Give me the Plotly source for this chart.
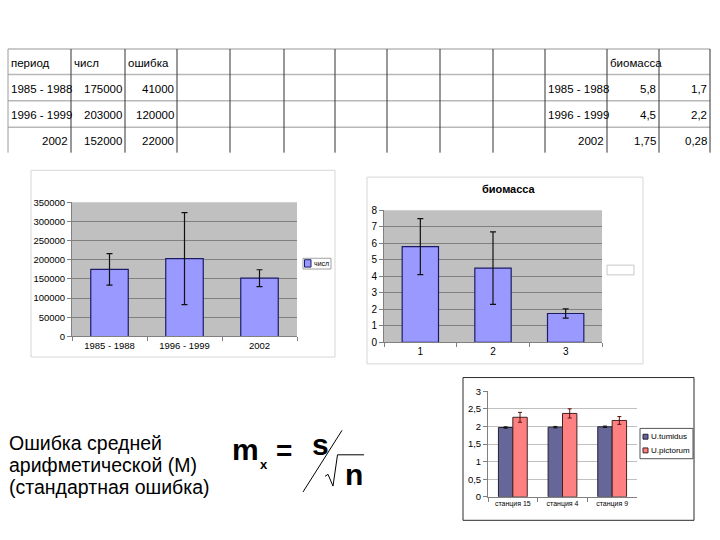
import plotly.graph_objects as go

# ---------------- data ----------------
table_header_left = ["период", "числ", "ошибка"]
periods = ["1985 - 1988", "1996 - 1999", "2002"]
chisl = [175000, 203000, 152000]
chisl_err = [41000, 120000, 22000]

biomass_header = "биомасса"
biomass = [5.8, 4.5, 1.75]
biomass_err = [1.7, 2.2, 0.28]
biomass_cats = ["1", "2", "3"]

stations = ["станция 15", "станция 4", "станция 9"]
tumidus = [1.97, 1.98, 1.99]
tumidus_err = [0.02, 0.02, 0.02]
pictorum = [2.26, 2.37, 2.17]
pictorum_err = [0.14, 0.13, 0.11]
series3_names = ["U.tumidus", "U.pictorum"]

y1_ticks = [0, 50000, 100000, 150000, 200000, 250000, 300000, 350000]
y2_ticks = [0, 1, 2, 3, 4, 5, 6, 7, 8]
y3_ticks = [0, 0.5, 1, 1.5, 2, 2.5, 3]

text_lines = ["Ошибка средней", "арифметической (М)", "(стандартная ошибка)"]

# ---------------- helpers ----------------
W, H = 720, 540
def X(x):
    return x / W
def Y(y):
    return 1 - y / H

FONT = "Liberation Sans, Arial, sans-serif"
TFONT = "Liberation Sans, Arial, sans-serif"
TSIZE = 11.5

fig = go.Figure()

# chart 1
fig.add_trace(go.Bar(
    x=periods, y=chisl, width=0.5, name="числ",
    marker=dict(color="#9999ff", line=dict(color="#1c1c66", width=1.2)),
    error_y=dict(type="data", array=chisl_err, color="#111111", thickness=1.2, width=3),
    xaxis="x", yaxis="y", showlegend=False))
# chart 2
fig.add_trace(go.Bar(
    x=biomass_cats, y=biomass, width=0.5, name="биомасса",
    marker=dict(color="#9999ff", line=dict(color="#1c1c66", width=1.2)),
    error_y=dict(type="data", array=biomass_err, color="#111111", thickness=1.2, width=3),
    xaxis="x2", yaxis="y2", showlegend=False))
# chart 3
fig.add_trace(go.Bar(
    x=stations, y=tumidus, width=0.29, offset=-0.29, name=series3_names[0],
    marker=dict(color="#666699", line=dict(color="#222233", width=1)),
    error_y=dict(type="data", array=tumidus_err, color="#111111", thickness=1, width=2),
    xaxis="x3", yaxis="y3", showlegend=False))
fig.add_trace(go.Bar(
    x=stations, y=pictorum, width=0.29, offset=0, name=series3_names[1],
    marker=dict(color="#ff8080", line=dict(color="#442222", width=1)),
    error_y=dict(type="data", array=pictorum_err, color="#551111", thickness=1, width=2),
    xaxis="x3", yaxis="y3", showlegend=False))

shapes = []
annotations = []

# ---------------- table ----------------
col_x = [8, 71, 125, 177, 230, 284, 335, 387, 440, 493, 545, 607, 659, 710]
row_y = [44, 70, 97, 124, 150]
for yy in row_y[:-1]:
    shapes.append(dict(type="line", xref="paper", yref="paper", x0=X(8), x1=X(710),
                       y0=Y(yy), y1=Y(yy), line=dict(color="#b8b8b8", width=1.5)))
for i, xx in enumerate(col_x):
    shapes.append(dict(type="line", xref="paper", yref="paper", x0=X(xx), x1=X(xx),
                       y0=Y(44), y1=Y(150),
                       line=dict(color="#9a9a9a" if i == 0 else "#333333", width=1)))

def cell_text(txt, col, row, align):
    x0, x1 = col_x[col], col_x[col + 1]
    yc = (row_y[row] + row_y[row + 1]) / 2 + 1
    if align == "left":
        annotations.append(dict(text=txt, x=X(x0 + 1), y=Y(yc), xref="paper", yref="paper",
                                xanchor="left", yanchor="middle", showarrow=False,
                                font=dict(family=TFONT, size=TSIZE, color="#000")))
    else:
        annotations.append(dict(text=txt, x=X(x1 - 1), y=Y(yc), xref="paper", yref="paper",
                                xanchor="right", yanchor="middle", showarrow=False,
                                font=dict(family=TFONT, size=TSIZE, color="#000")))

def fmt(v):
    return ("%g" % v).replace(".", ",")

for c, h in enumerate(table_header_left):
    cell_text(h, c, 0, "left")
cell_text(biomass_header, 11, 0, "left")
for r in range(3):
    p = periods[r]
    al = "right" if p.isdigit() else "left"
    cell_text(p, 0, r + 1, al)
    cell_text(str(chisl[r]), 1, r + 1, "right")
    cell_text(str(chisl_err[r]), 2, r + 1, "right")
    cell_text(p, 10, r + 1, al)
    cell_text(fmt(biomass[r]), 11, r + 1, "right")
    cell_text(fmt(biomass_err[r]), 12, r + 1, "right")

# ---------------- chart frames ----------------
def rect(x0, y0, x1, y1, fill, line, lw=1):
    shapes.append(dict(type="rect", xref="paper", yref="paper", x0=X(x0), x1=X(x1),
                       y0=Y(y1), y1=Y(y0), fillcolor=fill, line=dict(color=line, width=lw),
                       layer="below"))

rect(31, 168, 335, 359, "white", "#d6d6d6")
rect(367, 175, 643, 366, "white", "#d6d6d6")
rect(463, 380, 694, 526, "white", "#2a2a2a")
# gray plot areas
rect(72, 200.7, 297, 338, "#c0c0c0", "#c0c0c0", 0)
rect(384, 209, 602, 344, "#c0c0c0", "#c0c0c0", 0)

# legends (drawn)
rect(303, 258, 331, 269, "white", "#a0a0a0")
rect(304.5, 259.5, 311, 267, "#9999ff", "#1c1c66")
annotations.append(dict(text="числ", x=X(312), y=Y(263.5), xref="paper", yref="paper",
                        xanchor="left", yanchor="middle", showarrow=False,
                        font=dict(family=FONT, size=7, color="#000")))
rect(607, 265, 634, 275, "white", "#c8c8c8")
rect(640, 432, 693, 463, "white", "#555555")
rect(643, 438, 648, 443, "#666699", "#222233")
rect(643, 452, 648, 457, "#ff8080", "#442222")
annotations.append(dict(text=series3_names[0], x=X(649), y=Y(440.5), xref="paper", yref="paper",
                        xanchor="left", yanchor="middle", showarrow=False,
                        font=dict(family=FONT, size=8, color="#000")))
annotations.append(dict(text=series3_names[1], x=X(649), y=Y(454.5), xref="paper", yref="paper",
                        xanchor="left", yanchor="middle", showarrow=False,
                        font=dict(family=FONT, size=8, color="#000")))

# chart 2 title
annotations.append(dict(text="<b>биомасса</b>", x=X(509), y=Y(187), xref="paper", yref="paper",
                        xanchor="center", yanchor="middle", showarrow=False,
                        font=dict(family=FONT, size=11, color="#000")))

# ---------------- text block ----------------
for i, t in enumerate(text_lines):
    annotations.append(dict(text=t, x=X(7), y=Y(447 + 22.5 * i), xref="paper", yref="paper",
                            xanchor="left", yanchor="middle", showarrow=False,
                            font=dict(family=FONT, size=19.5, color="#000")))

# formula
def ftxt(t, x, y, size):
    annotations.append(dict(text="<b>" + t + "</b>", x=X(x), y=Y(y), xref="paper", yref="paper",
                            xanchor="center", yanchor="middle", showarrow=False,
                            font=dict(family=FONT, size=size, color="#000")))
ftxt("m", 245, 454, 30)
ftxt("x", 264, 469, 13)
ftxt("=", 284, 455, 28)
ftxt("s", 320, 448, 30)
ftxt("n", 354, 479, 30)
shapes.append(dict(type="line", xref="paper", yref="paper", x0=X(303), y0=Y(497),
                   x1=X(342), y1=Y(434), line=dict(color="#000", width=1)))
sq = [(325, 481), (328, 479), (333, 491), (337.5, 459), (364, 459)]
path = "M " + " L ".join("%f,%f" % (X(a), Y(b)) for a, b in sq)
shapes.append(dict(type="path", xref="paper", yref="paper", path=path,
                   line=dict(color="#000", width=1)))

# ---------------- axes ----------------
def AX(size):
    return dict(showline=True, linecolor="#808080", ticks="outside", ticklen=4, tickcolor="#808080",
                tickfont=dict(family=FONT, size=size, color="#000"), fixedrange=True)

fig.update_layout(
    width=W, height=H, autosize=False,
    margin=dict(l=0, r=0, t=0, b=0),
    paper_bgcolor="white", plot_bgcolor="rgba(0,0,0,0)",
    separators=",",
    showlegend=False,
    shapes=shapes, annotations=annotations,
    xaxis=dict(domain=[X(72), X(297)], anchor="y", type="category", tickson="boundaries",
               showgrid=False, **AX(9.5)),
    yaxis=dict(domain=[Y(338), Y(200.7)], anchor="x", range=[0, 350000], tickvals=y1_ticks,
               tickformat="d", showgrid=True, gridcolor="#808080", gridwidth=1, zeroline=False, **AX(9.5)),
    xaxis2=dict(domain=[X(384), X(602)], anchor="y2", type="category", tickson="boundaries",
                showgrid=False, **AX(10)),
    yaxis2=dict(domain=[Y(344), Y(209)], anchor="x2", range=[0, 8], tickvals=y2_ticks,
                showgrid=True, gridcolor="#808080", gridwidth=1, zeroline=False, **AX(10)),
    xaxis3=dict(domain=[X(488), X(637)], anchor="y3", type="category", tickson="boundaries",
                showgrid=False, **AX(7)),
    yaxis3=dict(domain=[Y(502), Y(394)], anchor="x3", range=[0, 3], tickvals=y3_ticks,
                showgrid=True, gridcolor="#c0c0c0", gridwidth=1, zeroline=False, **AX(9.5)),
)

fig.write_html("out.html")
